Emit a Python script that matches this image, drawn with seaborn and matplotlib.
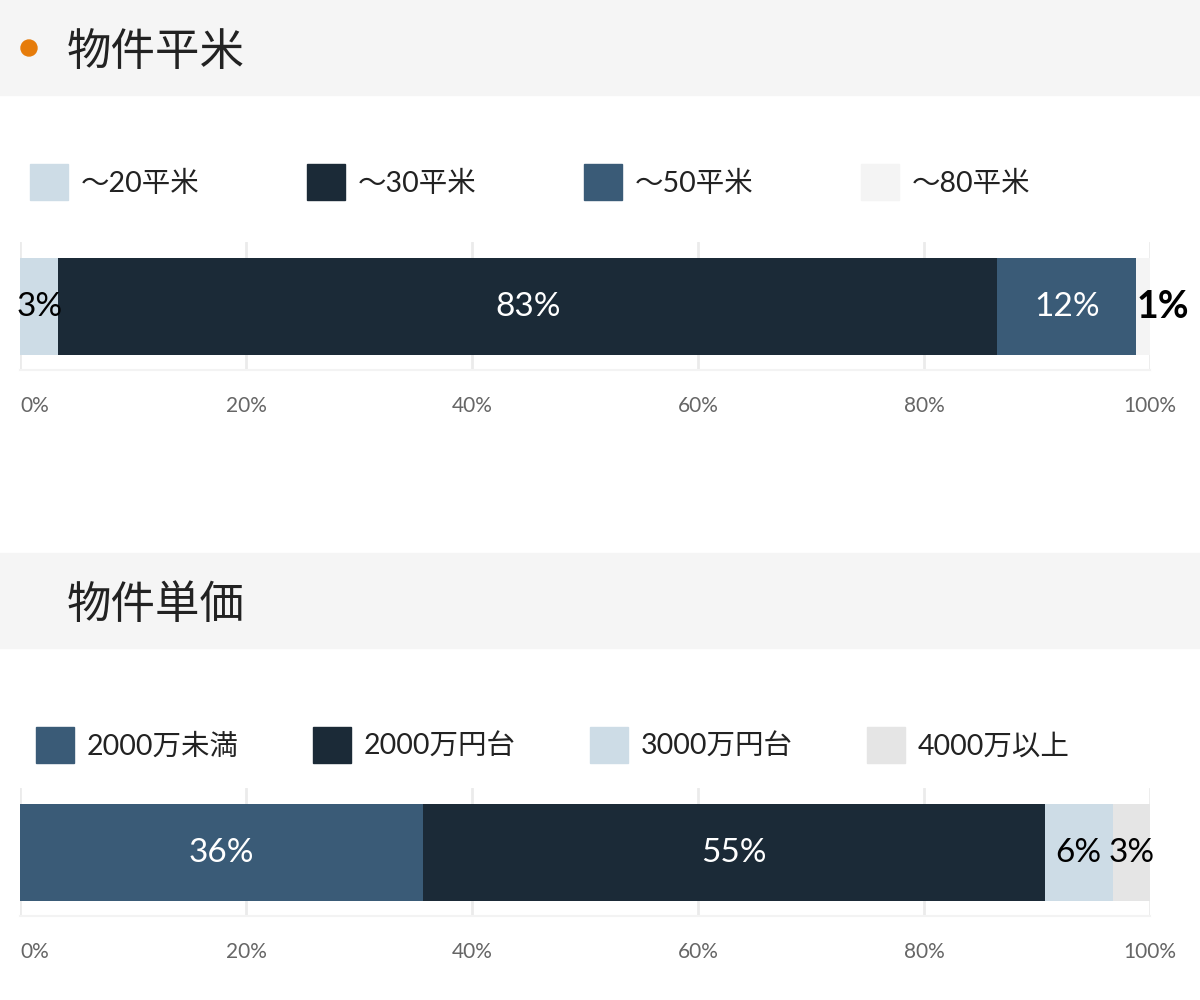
import matplotlib.pyplot as plt
import seaborn as sns
from matplotlib.patches import Rectangle, Ellipse
from matplotlib.colors import to_rgb

# data
area_labels = ['～20平米', '～30平米', '～50平米', '～80平米']
area_values = [3.4, 83.1, 12.3, 1.2]
area_texts = ['3%', '83%', '12%', '1%']
area_colors = ['#cddce6', '#1b2a37', '#3a5b77', '#f4f4f4']

price_labels = ['2000万未満', '2000万円台', '3000万円台', '4000万以上']
price_values = [35.7, 55.0, 6.0, 3.3]
price_texts = ['36%', '55%', '6%', '3%']
price_colors = ['#3a5b77', '#1b2a37', '#cddce6', '#e5e5e5']

ticks = [0, 20, 40, 60, 80, 100]
tick_labels = ['0%', '20%', '40%', '60%', '80%', '100%']

sns.set_theme(style='white')
plt.rcParams['font.family'] = ['Noto Sans CJK JP', 'DejaVu Sans']
num_font = ['Lato', 'Noto Sans CJK JP', 'DejaVu Sans']

W, H = 1200, 1000
fig = plt.figure(figsize=(12, 10), dpi=100)


def fx(x):
    return x / W


def fy(y):
    return 1 - y / H


def is_dark(c):
    r, g, b = to_rgb(c)
    return 0.299 * r + 0.587 * g + 0.114 * b < 0.5


def draw_panel(band_top, title, dot, labels, values, texts, colors,
               legend_x0, legend_y, ax_top, ax_bottom):
    # grey header band
    fig.patches.append(Rectangle((0, fy(band_top + 95)), 1, 95 / H,
                                 transform=fig.transFigure, color='#f5f5f5', zorder=0))
    if dot:
        fig.patches.append(Ellipse((fx(29), fy(band_top + 48)), 16 / W, 16 / H,
                                   transform=fig.transFigure, color='#e67c0a'))
    fig.text(fx(67), fy(band_top + 52), title, fontsize=32, color='#222222',
             va='center', ha='left')

    # legend drawn by hand so the items sit on a fixed pitch
    for i, (lab, col) in enumerate(zip(labels, colors)):
        x0 = legend_x0 + i * 277
        fig.patches.append(Rectangle((fx(x0), fy(legend_y + 18)), 38 / W, 36 / H,
                                     transform=fig.transFigure, color=col))
        fig.text(fx(x0 + 51), fy(legend_y + 2), lab, fontsize=20.5, color='#222222',
                 va='center', ha='left', family=num_font)

    ax = fig.add_axes([fx(20), fy(ax_bottom), fx(1150) - fx(20), (ax_bottom - ax_top) / H])

    # stacked bar: draw cumulative totals from the back
    cums = []
    total = 0
    for v in values:
        total += v
        cums.append(total)
    for i in reversed(range(len(values))):
        sns.barplot(x=[cums[i]], y=['bar'], color=colors[i], orient='h', width=0.8,
                    saturation=1, linewidth=0, ax=ax)

    for v, c, t, col in zip(values, cums, texts, colors):
        tc = 'white' if is_dark(col) else 'black'
        if v < 2:
            ax.text(c - v, 0, t, ha='left', va='center', fontsize=27,
                    fontweight='bold', color=tc, clip_on=False, family=num_font)
        else:
            ax.text(c - v / 2, 0, t, ha='center', va='center', fontsize=24,
                    color=tc, family=num_font)

    ax.set_xlim(0, 100)
    ax.set_ylim(0.525, -0.535)
    ax.set_xticks(ticks)
    ax.set_xticklabels(tick_labels, fontsize=15, color='#666666', family=num_font)
    ax.get_xticklabels()[0].set_horizontalalignment('left')
    ax.set_yticks([])
    ax.set_xlabel('')
    ax.set_ylabel('')
    ax.tick_params(axis='x', length=0, pad=19)
    ax.set_axisbelow(True)
    ax.xaxis.grid(True, color='#ebebeb', linewidth=2)
    for s in ['top', 'left', 'right']:
        ax.spines[s].set_visible(False)
    ax.spines['bottom'].set_color('#f3f3f3')
    ax.spines['bottom'].set_linewidth(1.5)
    ax.patch.set_alpha(0)
    return ax


draw_panel(0, '物件平米', True, area_labels, area_values, area_texts, area_colors,
           30, 182, 242, 370)
draw_panel(553, '物件単価', False, price_labels, price_values, price_texts, price_colors,
           36, 745, 788, 916)

plt.savefig('out.png', dpi=100)
